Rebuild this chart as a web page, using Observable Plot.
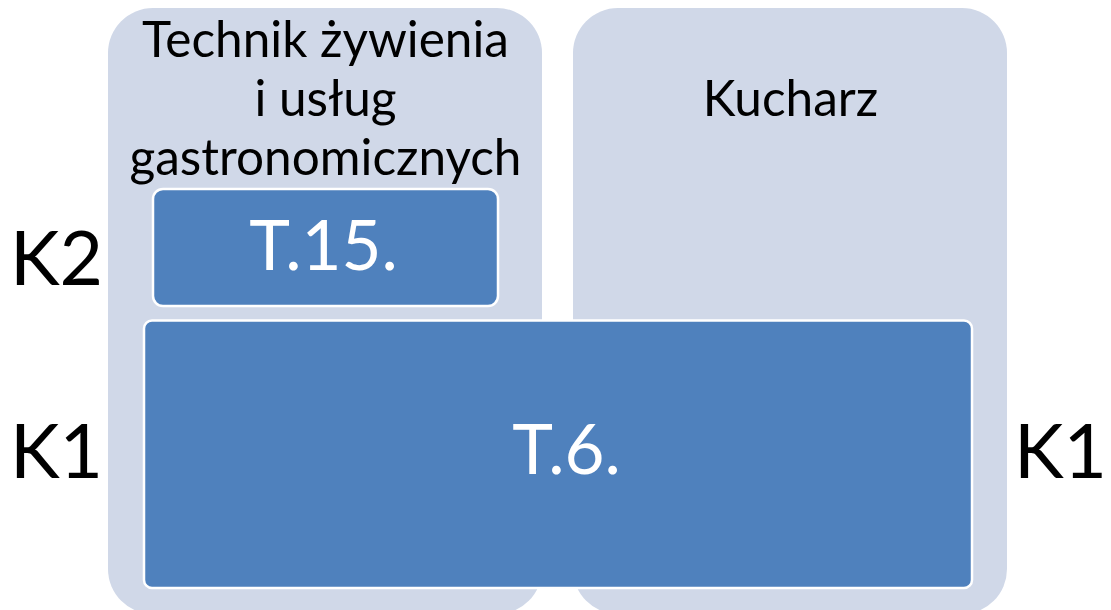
<!DOCTYPE html>
<html>
<head>
<meta charset="utf-8">
<script src="https://cdn.jsdelivr.net/npm/d3@7"></script>
<script src="https://cdn.jsdelivr.net/npm/@observablehq/plot@0.6"></script>
<style>
  html, body { margin: 0; padding: 0; background: #ffffff; }
  #chart svg { display: block; }
</style>
</head>
<body>
<div id="chart"></div>
<script>
// ---- data ----
const professions = ["Technik żywienia\ni usług\ngastronomicznych", "Kucharz"];
const levels = ["K1", "K2"];
const exams = ["T.6.", "T.15."];
const examLevel = ["K1", "K2"];
const examProfessions = [
  ["Technik żywienia\ni usług\ngastronomicznych", "Kucharz"],
  ["Technik żywienia\ni usług\ngastronomicznych"]
];

// ---- derived tables ----
const panels = professions.map((name, i) => ({name, i}));
const examRows = exams.map((exam, k) => {
  const idx = examProfessions[k].map(p => professions.indexOf(p));
  const lv = levels.indexOf(examLevel[k]);
  return {exam, level: examLevel[k], x1: d3.min(idx), x2: d3.max(idx) + 1, y1: lv, y2: lv + 1};
});
const levelLabels = [];
levels.forEach(level => {
  const rows = examRows.filter(r => r.level === level);
  const lv = levels.indexOf(level);
  levelLabels.push({level, y: lv + 0.5, side: "left"});
  if (rows.some(r => r.x2 === professions.length)) levelLabels.push({level, y: lv + 0.5, side: "right"});
});

// ---- styling / layout ----
const font = "Lato, 'Open Sans', sans-serif";
const panelFill = "#d0d8e8";
const boxFill = "#4f81bd";
// row layout: level rows (K1, K2) then header row, unequal heights
const rowY = d3.scaleLinear().domain([0, 1, 2, 3]).range([614, 313.5, 186, 8]);
const boxStyle = {
  "T.6.":  {insetLeft: 51.5, insetRight: 50.5, insetTop: 7, insetBottom: 26, rx: 8, dx: 8.5, dy: -12},
  "T.15.": {insetLeft: 60.5, insetRight: 59.5, insetTop: 3, insetBottom: 7.5, rx: 10, dx: -2, dy: -2}
};
const levelDy = {"K1": -10, "K2": 11};

const marks = [
  Plot.rect(panels, {
    x1: d => d.i, x2: d => d.i + 1,
    y1: () => rowY(0), y2: () => rowY(levels.length + 1),
    fill: panelFill, insetLeft: 15.5, insetRight: 15.5, rx: 45
  }),
  Plot.text(panels, {
    x: d => d.i + 0.5, y: () => rowY(levels.length + 0.5), text: "name",
    fontSize: 49.5, fill: "#000", lineHeight: 1.19, lineAnchor: "middle", fontFamily: font
  })
];
examRows.forEach(r => {
  const s = boxStyle[r.exam];
  marks.push(Plot.rect([r], {
    x1: "x1", x2: "x2", y1: d => rowY(d.y1), y2: d => rowY(d.y2),
    fill: boxFill, stroke: "#ffffff", strokeWidth: 2.5, rx: s.rx,
    insetLeft: s.insetLeft, insetRight: s.insetRight, insetTop: s.insetTop, insetBottom: s.insetBottom
  }));
  marks.push(Plot.text([r], {
    x: d => (d.x1 + d.x2) / 2, y: d => rowY((d.y1 + d.y2) / 2), text: "exam",
    fill: "#ffffff", fontSize: 69, fontFamily: font, dx: s.dx, dy: s.dy
  }));
});
levelLabels.forEach(l => {
  marks.push(Plot.text([l], {
    y: d => rowY(d.y), text: "level", frameAnchor: l.side,
    dx: l.side === "left" ? -36.5 : 37.5, dy: levelDy[l.level],
    textAnchor: "middle", fontSize: 75, fill: "#000", fontFamily: font
  }));
});

const chart = Plot.plot({
  width: 1111,
  height: 610,
  marginLeft: 92.5,
  marginRight: 88.5,
  marginTop: 0,
  marginBottom: 0,
  x: {domain: [0, professions.length], axis: null},
  y: {type: "identity", axis: null},
  style: {background: "#ffffff"},
  marks
});
document.getElementById("chart").appendChild(chart);
</script>
</body>
</html>
